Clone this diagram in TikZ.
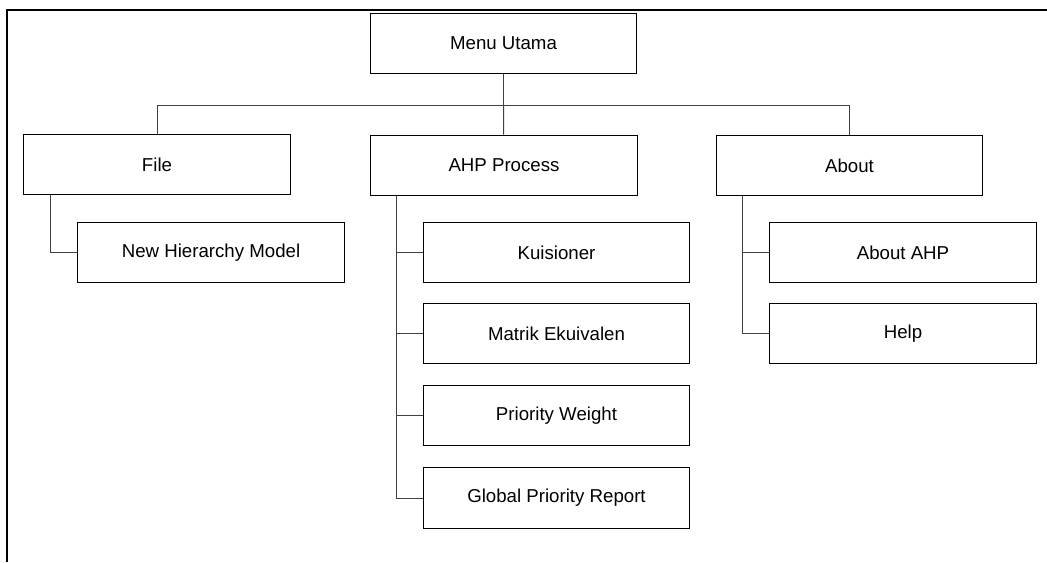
\documentclass[tikz,border=0pt]{standalone}
\usepackage{fontspec}
\setmainfont{Liberation Sans}
\begin{document}
\begin{tikzpicture}[x=0.75pt,y=-0.75pt]
	\tikzstyle{box}=[rectangle,draw,line width=0.75pt,minimum width=200pt,minimum height=45.5pt,inner sep=0pt,font=\fontsize{14}{17}\selectfont]
	\tikzstyle{link}=[line width=0.75pt,draw=black!75]
	\tikzstyle{frame}=[line width=1.6pt]
	\useasboundingbox (0,0) rectangle (1047,562);
	\draw [frame] (1047,10) -- (7,10) -- (7,562);
	\node (menu)     at (503.5,43.5)  [box] {Menu Utama};
	\node (file)     at (157,164.5)   [box] {File};
	\node (ahp)      at (504,165.5)   [box] {AHP Process};
	\node (about)    at (849.5,165.5) [box] {About};
	\node (newmodel) at (211,252.5)   [box] {New Hierarchy Model};
	\node (kuis)     at (556.5,252.5) [box] {Kuisioner};
	\node (matrik)   at (556.5,333.5) [box] {Matrik Ekuivalen};
	\node (prio)     at (556.5,415.5) [box] {Priority Weight};
	\node (global)   at (556.5,498)   [box] {Global Priority Report};
	\node (aboutahp) at (903,252.5)   [box] {About AHP};
	\node (help)     at (903,333.5)   [box] {Help};
	\coordinate (bar) at (503.5,105);
	\draw [link] (menu) -- (bar);
	\draw [link] (bar) -| (file.north);
	\draw [link] (bar) -- (ahp);
	\draw [link] (bar) -| (about.north);
	\draw [link] (file.south west) ++(27,0) |- (newmodel.west);
	\foreach \n in {kuis,matrik,prio,global}
		\draw [link] (ahp.south west) ++(26,0) |- (\n.west);
	\foreach \n in {aboutahp,help}
		\draw [link] (about.south west) ++(27,0) |- (\n.west);
\end{tikzpicture}
\end{document}
